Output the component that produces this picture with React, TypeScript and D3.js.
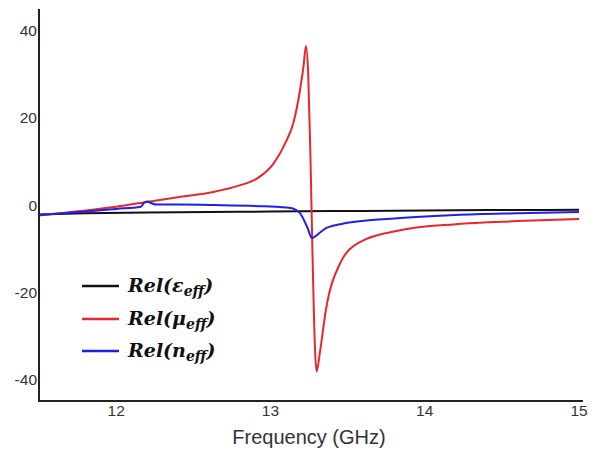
import React from "react";
import * as d3 from "d3";

const xTicks = [12, 13, 14, 15];
const yTicks = [-40, -20, 0, 20, 40];

const epsF = [11.5, 11.8, 12.2, 12.6, 13.0, 13.4, 13.8, 14.2, 14.6, 15.0];
const epsV = [-2.2, -1.9, -1.7, -1.6, -1.5, -1.4, -1.3, -1.2, -1.15, -1.1];

const muF = [11.5, 11.77, 12.0, 12.2, 12.4, 12.63, 12.8, 12.91, 13.02, 13.1, 13.15, 13.19, 13.215, 13.23, 13.245, 13.26, 13.275, 13.29, 13.30, 13.32, 13.36, 13.45, 13.58, 13.84, 14.2, 14.6, 15.0];
const muV = [-2.4, -1.4, -0.4, 0.7, 1.8, 3.0, 4.5, 6.0, 9.5, 14.5, 19, 26, 32, 36.5, 30, 10, -15, -34, -38.2, -34, -24, -13.5, -8.5, -5.8, -4.4, -3.7, -3.2];

const nF = [11.5, 11.77, 12.0, 12.16, 12.18, 12.2, 12.23, 12.26, 12.4, 12.63, 12.96, 13.13, 13.19, 13.24, 13.27, 13.29, 13.36, 13.5, 13.84, 14.2, 14.6, 15.0];
const nV = [-2.3, -1.6, -0.9, -0.4, 0.5, 0.8, 0.4, 0.1, 0.1, 0.0, -0.3, -0.7, -1.8, -5.2, -7.6, -7.2, -5.3, -4.1, -3.0, -2.3, -1.9, -1.6];

const series = [
  { name: "ε", f: epsF, v: epsV, color: "#111111" },
  { name: "μ", f: muF, v: muV, color: "#e8262b" },
  { name: "n", f: nF, v: nV, color: "#1f1fe6" },
];

export default function App() {
  const W = 600, H = 452;
  const x = d3.scaleLinear().domain([11.5, 15]).range([39, 579]);
  const y = d3.scaleLinear().domain([-45, 45]).range([401, 9]);
  const line = d3
    .line<[number, number]>()
    .x((d) => x(d[0]))
    .y((d) => y(d[1]))
    .curve(d3.curveMonotoneX);

  const legendY = [286, 319, 351];
  const legendFont = "'DejaVu Serif', 'Liberation Serif', serif";

  return (
    <svg width={W} height={H} style={{ position: "absolute", left: 0, top: 0, background: "#fff" }}>
      <rect width={W} height={H} fill="#fff" />
      {series.map((s) => (
        <path
          key={s.name}
          d={line(s.f.map((f, i) => [f, s.v[i]] as [number, number])) || ""}
          fill="none"
          stroke={s.color}
          strokeWidth={2}
        />
      ))}
      <line x1={39} y1={9} x2={39} y2={401} stroke="#222" strokeWidth={2} />
      <line x1={38} y1={401} x2={583} y2={401} stroke="#222" strokeWidth={2} />
      {yTicks.map((t) => (
        <text
          key={t}
          x={37}
          y={y(t) + 5.5}
          textAnchor="end"
          fontFamily="'Liberation Sans', Arial, sans-serif"
          fontSize={15.5}
          fill="#333"
        >
          {t}
        </text>
      ))}
      {xTicks.map((t) => (
        <text
          key={t}
          x={x(t)}
          y={416}
          textAnchor="middle"
          fontFamily="'Liberation Sans', Arial, sans-serif"
          fontSize={15.5}
          fill="#333"
        >
          {t}
        </text>
      ))}
      <text
        x={309}
        y={444}
        textAnchor="middle"
        fontFamily="'Liberation Sans', Arial, sans-serif"
        fontSize={20}
        fill="#333"
      >
        Frequency (GHz)
      </text>
      {series.map((s, i) => (
        <g key={"lg" + s.name}>
          <line x1={82} x2={119} y1={legendY[i]} y2={legendY[i]} stroke={s.color} strokeWidth={2.5} />
          <text
            x={128}
            y={legendY[i] + 6}
            fontFamily={legendFont}
            fontStyle="italic"
            fontWeight="bold"
            fontSize={19}
            fill="#111"
          >
            Rel({s.name}
            <tspan fontSize={14} dy={4}>eff</tspan>
            <tspan dy={-4}>)</tspan>
          </text>
        </g>
      ))}
    </svg>
  );
}
